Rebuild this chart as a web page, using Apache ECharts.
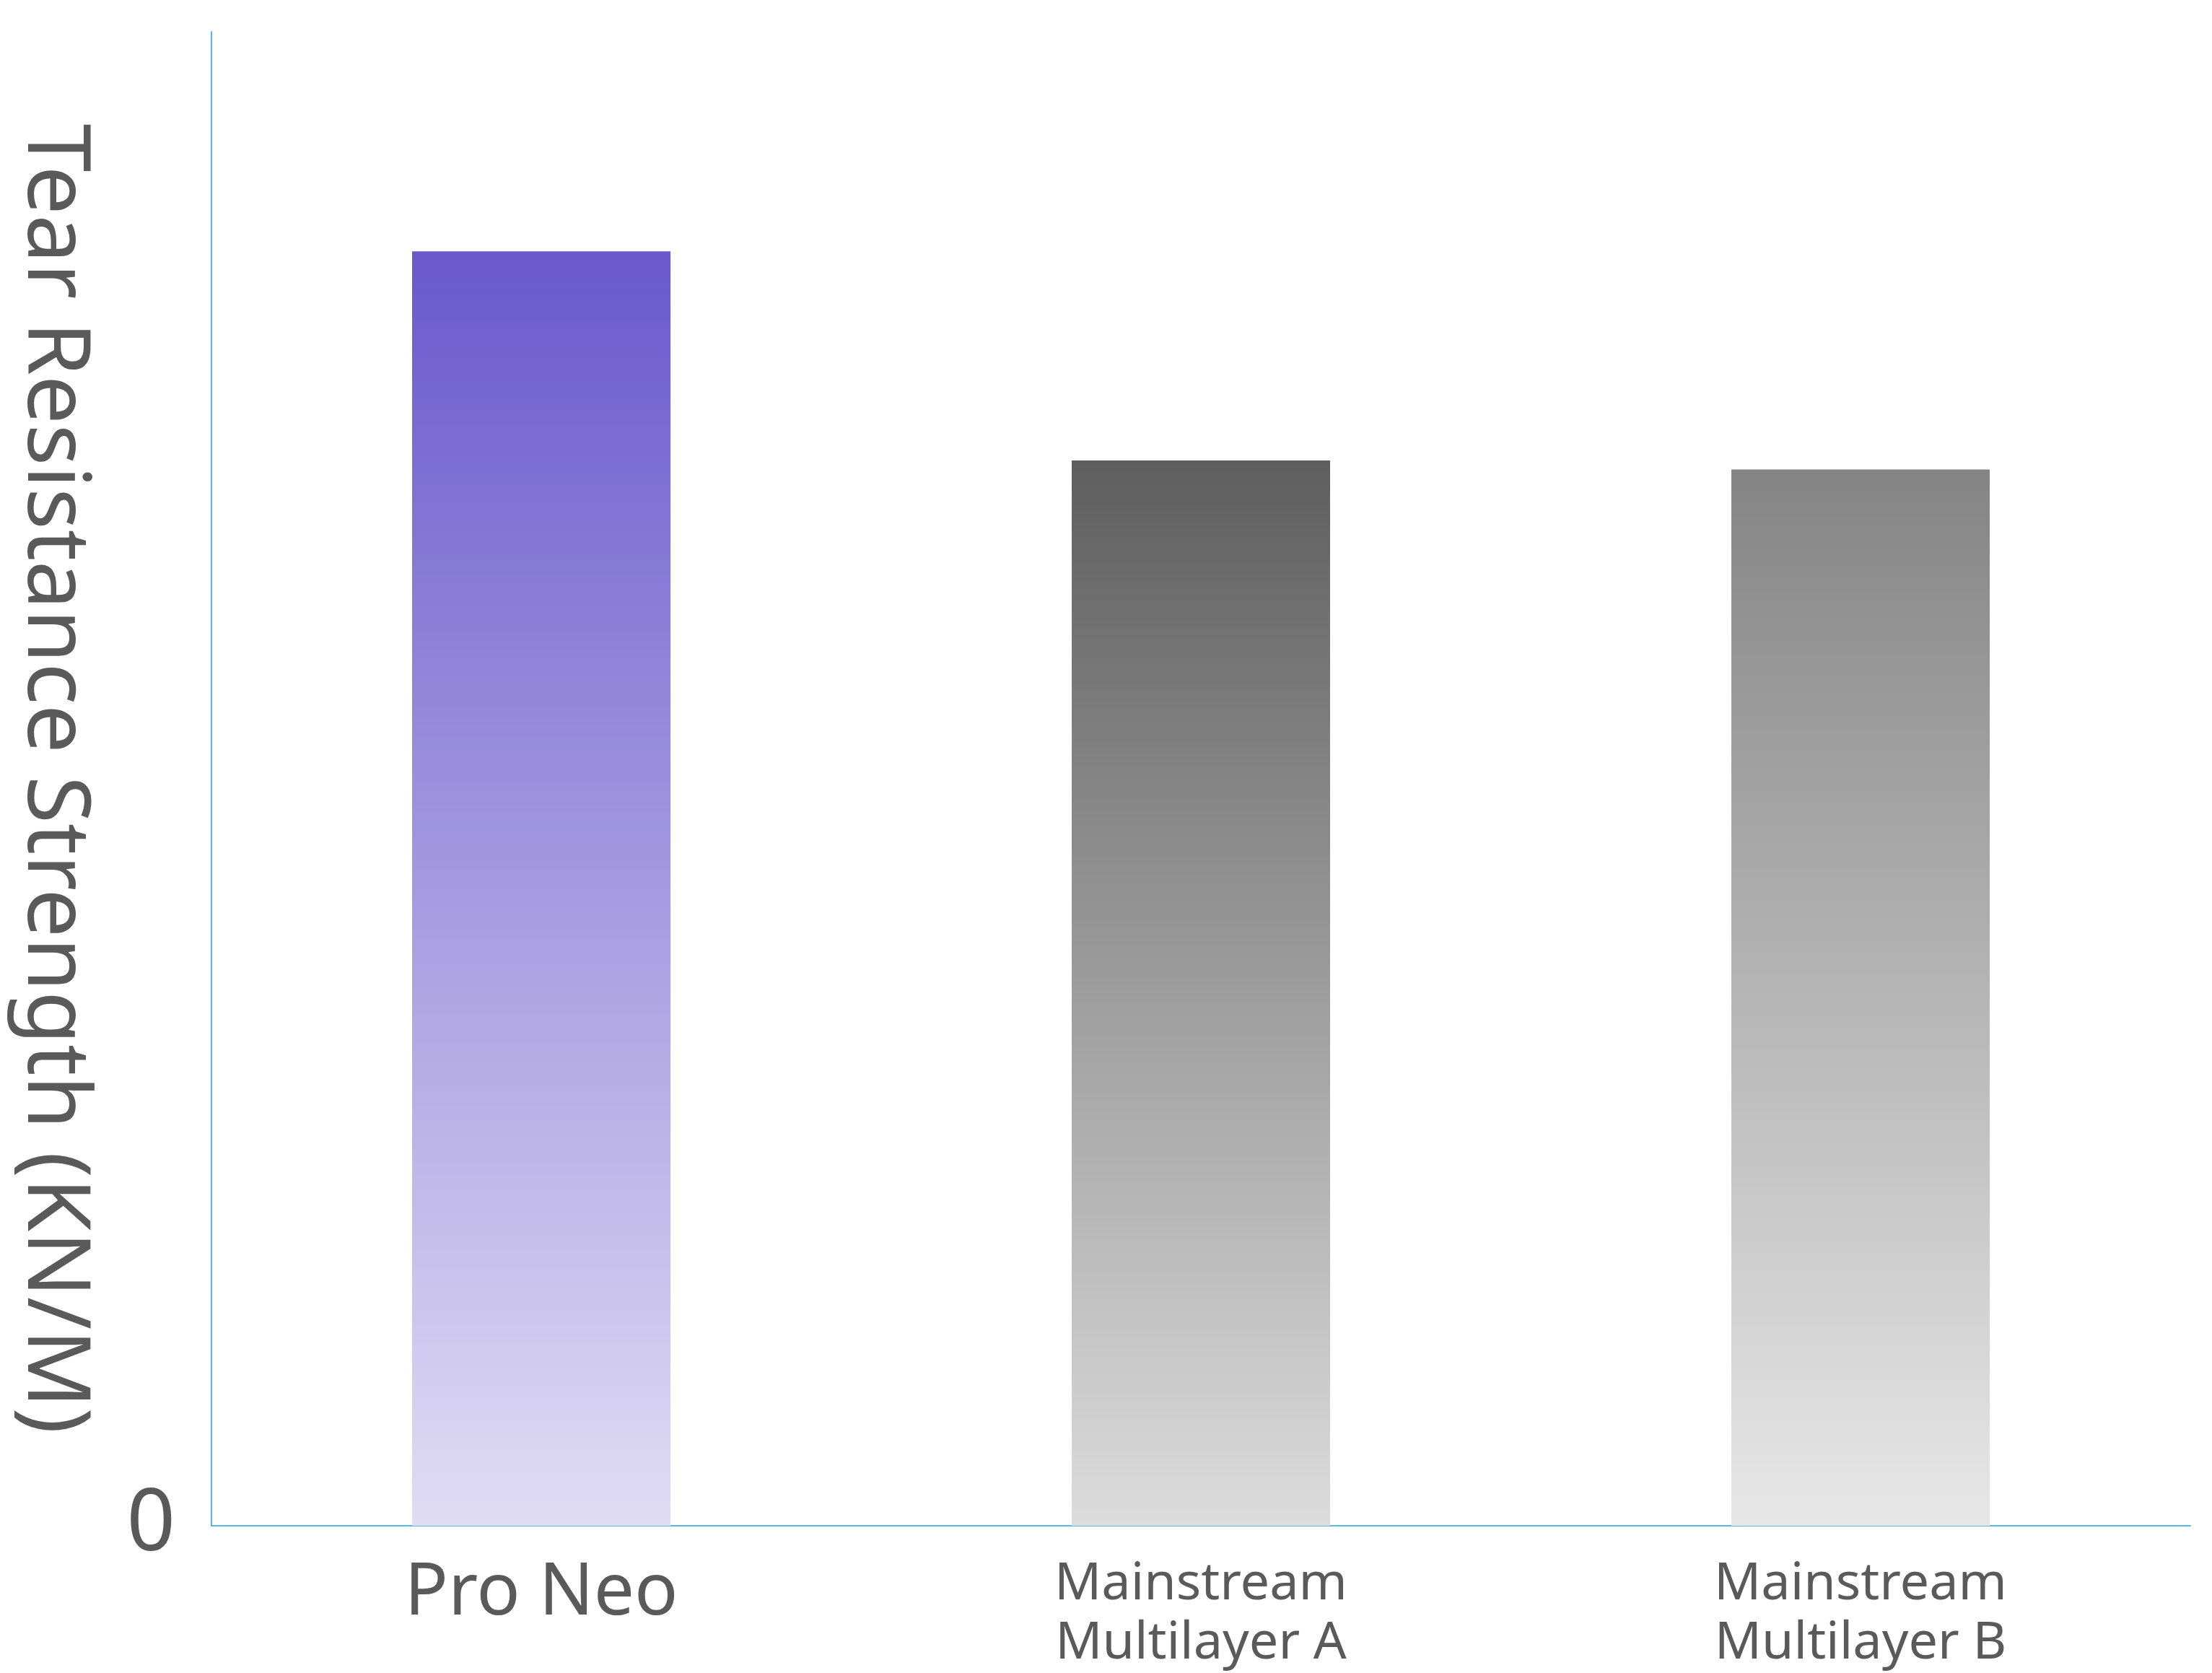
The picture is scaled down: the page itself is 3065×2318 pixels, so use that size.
<!DOCTYPE html>
<html>
<head>
<meta charset="utf-8">
<script src="https://cdn.jsdelivr.net/npm/echarts@6/dist/echarts.min.js"></script>
<style>html,body{margin:0;padding:0;background:#fff}#chart{width:3065px;height:2318px}</style>
</head>
<body>
<div id="chart"></div>
<script>
// 撕裂强度对比柱状图
var categories = ['Pro Neo', 'Mainstream\nMultilayer A', 'Mainstream\nMultilayer B'];
var values = [85.3, 71.3, 70.7];
var topColors = ['#6a58cc', '#5e5e5e', '#848484'];
var bottomColors = ['#e0dcf4', '#dcdcdc', '#e7e7e7'];
var yTicks = ['0'];

var mychart = echarts.init(document.getElementById('chart'));

var barData = [];
for (var i = 0; i < values.length; i++) {
    barData.push({
        value: values[i],
        itemStyle: {
            color: new echarts.graphic.LinearGradient(0, 0, 0, 1, [
                { offset: 0, color: topColors[i] },
                { offset: 1, color: bottomColors[i] }
            ])
        }
    });
}

var catData = categories.map(function (c, i) {
    return {
        value: c,
        textStyle: i === 0 ? { fontSize: 100, lineHeight: 110 } : { fontSize: 72, lineHeight: 82 }
    };
});

var option = {
    backgroundColor: '#fff',
    grid: { left: 293, right: 30, top: 44, bottom: 183 },
    xAxis: {
        type: 'category',
        data: catData,
        axisLine: { show: true, lineStyle: { color: '#5ab6e6', width: 2 } },
        axisTick: { show: false },
        axisLabel: { color: '#5a5a5a', fontFamily: 'Noto Sans', margin: 40, interval: 0 }
    },
    yAxis: {
        type: 'value',
        min: 0,
        max: 100,
        interval: 100,
        name: 'Tear Resistance Strength (KN/M)',
        nameLocation: 'middle',
        nameRotate: -90,
        nameGap: 160,
        nameTextStyle: { color: '#5a5a5a', fontSize: 120, fontFamily: 'Noto Sans' },
        splitLine: { show: false },
        axisLine: { show: true, lineStyle: { color: '#5ab6e6', width: 2 } },
        axisTick: { show: false },
        axisLabel: {
            color: '#5a5a5a', fontSize: 118, fontFamily: 'Noto Sans', margin: 50,
            formatter: function (v) { return v === 0 ? yTicks[0] : ''; }
        }
    },
    series: [{
        type: 'bar',
        data: barData,
        barWidth: 358,
        animation: false
    }]
};

mychart.setOption(option);
</script>
</body>
</html>
